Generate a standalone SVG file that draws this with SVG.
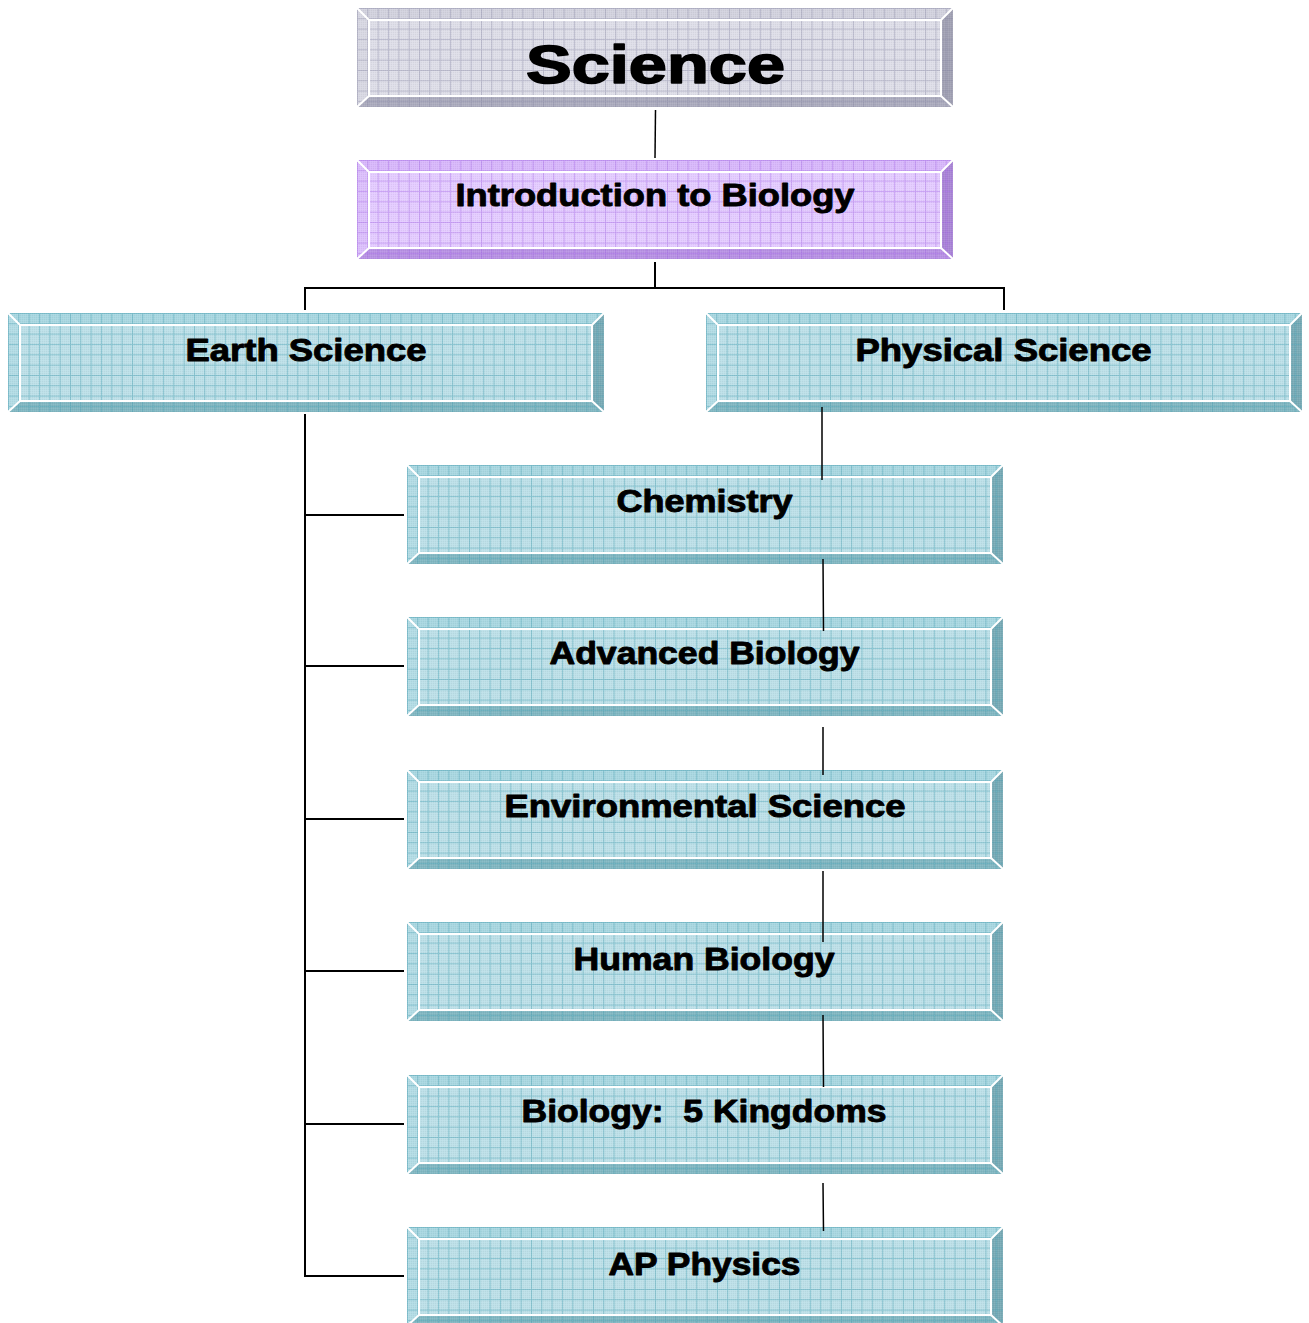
<svg xmlns="http://www.w3.org/2000/svg" width="1309" height="1323" viewBox="0 0 1309 1323">
<defs>
<pattern id="grid-teal" patternUnits="userSpaceOnUse" width="10.33" height="10.33">
<path d="M0.5,0 V10.33 M0,0.5 H10.33" stroke="#4ea3b5" stroke-opacity="0.5" stroke-width="1" fill="none"/>
</pattern>
<pattern id="grid-grey" patternUnits="userSpaceOnUse" width="10.33" height="10.33">
<path d="M0.5,0 V10.33 M0,0.5 H10.33" stroke="#8c8ca8" stroke-opacity="0.45" stroke-width="1" fill="none"/>
</pattern>
<pattern id="grid-purple" patternUnits="userSpaceOnUse" width="10.33" height="10.33">
<path d="M0.5,0 V10.33 M0,0.5 H10.33" stroke="#a468e8" stroke-opacity="0.45" stroke-width="1" fill="none"/>
</pattern>
<pattern id="dither" patternUnits="userSpaceOnUse" width="2" height="2">
<rect x="0" y="0" width="1" height="1" fill="#000" fill-opacity="0.04"/>
<rect x="1" y="1" width="1" height="1" fill="#fff" fill-opacity="0.08"/>
</pattern>
</defs>
<style>
.teal .top{fill:#a9d7e1}.teal .left{fill:#b3dce5}.teal .bottom{fill:#82b7c2}.teal .right{fill:#7aabb6}.teal .face{fill:#bde0e8}.teal .grid{fill:url(#grid-teal)}
.grey .top{fill:#d2d2de}.grey .left{fill:#d8d8e3}.grey .bottom{fill:#acacbe}.grey .right{fill:#a2a2b4}.grey .face{fill:#dedee8}.grey .grid{fill:url(#grid-grey)}
.purple .top{fill:#d8b8fb}.purple .left{fill:#dcc0fc}.purple .bottom{fill:#b892e4}.purple .right{fill:#aa86d6}.purple .face{fill:#e4ccff}.purple .grid{fill:url(#grid-purple)}
.dith{fill:url(#dither)}
.hl{fill:none;stroke:#ffffff;stroke-width:2}
.lbl{font-family:"Liberation Sans",Arial,Helvetica,sans-serif;font-weight:bold;fill:#000;stroke:#000;stroke-width:0.9;stroke-linejoin:round;text-anchor:middle;font-size:31px}
.big{font-size:54px;stroke-width:1.6}
.conn{stroke:#000;stroke-width:2;fill:none}
.conn2{stroke:#000;stroke-width:1.5;fill:none}
</style>

<g id="node-science" class="grey" transform="translate(357,8)">
<path class="top" d="M0,0 H596 L584,12 H12 Z"/><path class="left" d="M0,0 L12,12 V88 L0,99 Z"/><path class="bottom" d="M0,99 L12,88 H584 L596,99 Z"/><path class="right" d="M596,0 V99 L584,88 V12 Z"/><rect class="face" x="12" y="12" width="572" height="76"/><rect class="grid" x="0" y="0" width="596" height="99"/><rect class="dith" x="0" y="0" width="596" height="99"/>
<rect class="hl" x="12" y="12" width="572" height="76"/><path class="hl" d="M0,0 L12,12 M0,99 L12,88 M596,0 L584,12 M596,99 L584,88"/>
<text class="lbl big" x="298.5" y="75" textLength="259" lengthAdjust="spacingAndGlyphs">Science</text>
</g>

<g id="node-intro" class="purple" transform="translate(357,160)">
<path class="top" d="M0,0 H596 L584,12 H12 Z"/><path class="left" d="M0,0 L12,12 V88 L0,99 Z"/><path class="bottom" d="M0,99 L12,88 H584 L596,99 Z"/><path class="right" d="M596,0 V99 L584,88 V12 Z"/><rect class="face" x="12" y="12" width="572" height="76"/><rect class="grid" x="0" y="0" width="596" height="99"/><rect class="dith" x="0" y="0" width="596" height="99"/>
<rect class="hl" x="12" y="12" width="572" height="76"/><path class="hl" d="M0,0 L12,12 M0,99 L12,88 M596,0 L584,12 M596,99 L584,88"/>
<text class="lbl" x="298" y="46" textLength="399" lengthAdjust="spacingAndGlyphs">Introduction to Biology</text>
</g>

<g id="node-earth" class="teal" transform="translate(8,313)">
<path class="top" d="M0,0 H596 L584,12 H12 Z"/><path class="left" d="M0,0 L12,12 V88 L0,99 Z"/><path class="bottom" d="M0,99 L12,88 H584 L596,99 Z"/><path class="right" d="M596,0 V99 L584,88 V12 Z"/><rect class="face" x="12" y="12" width="572" height="76"/><rect class="grid" x="0" y="0" width="596" height="99"/><rect class="dith" x="0" y="0" width="596" height="99"/>
<rect class="hl" x="12" y="12" width="572" height="76"/><path class="hl" d="M0,0 L12,12 M0,99 L12,88 M596,0 L584,12 M596,99 L584,88"/>
<text class="lbl" x="298" y="47.5" textLength="241" lengthAdjust="spacingAndGlyphs">Earth Science</text>
</g>

<g id="node-physical" class="teal" transform="translate(706,313)">
<path class="top" d="M0,0 H596 L584,12 H12 Z"/><path class="left" d="M0,0 L12,12 V88 L0,99 Z"/><path class="bottom" d="M0,99 L12,88 H584 L596,99 Z"/><path class="right" d="M596,0 V99 L584,88 V12 Z"/><rect class="face" x="12" y="12" width="572" height="76"/><rect class="grid" x="0" y="0" width="596" height="99"/><rect class="dith" x="0" y="0" width="596" height="99"/>
<rect class="hl" x="12" y="12" width="572" height="76"/><path class="hl" d="M0,0 L12,12 M0,99 L12,88 M596,0 L584,12 M596,99 L584,88"/>
<text class="lbl" x="297.5" y="47.5" textLength="296" lengthAdjust="spacingAndGlyphs">Physical Science</text>
</g>

<g id="node-chemistry" class="teal" transform="translate(407,465)">
<path class="top" d="M0,0 H596 L584,12 H12 Z"/><path class="left" d="M0,0 L12,12 V88 L0,99 Z"/><path class="bottom" d="M0,99 L12,88 H584 L596,99 Z"/><path class="right" d="M596,0 V99 L584,88 V12 Z"/><rect class="face" x="12" y="12" width="572" height="76"/><rect class="grid" x="0" y="0" width="596" height="99"/><rect class="dith" x="0" y="0" width="596" height="99"/>
<rect class="hl" x="12" y="12" width="572" height="76"/><path class="hl" d="M0,0 L12,12 M0,99 L12,88 M596,0 L584,12 M596,99 L584,88"/>
<text class="lbl" x="297.5" y="47" textLength="176" lengthAdjust="spacingAndGlyphs">Chemistry</text>
</g>

<g id="node-advbio" class="teal" transform="translate(407,617)">
<path class="top" d="M0,0 H596 L584,12 H12 Z"/><path class="left" d="M0,0 L12,12 V88 L0,99 Z"/><path class="bottom" d="M0,99 L12,88 H584 L596,99 Z"/><path class="right" d="M596,0 V99 L584,88 V12 Z"/><rect class="face" x="12" y="12" width="572" height="76"/><rect class="grid" x="0" y="0" width="596" height="99"/><rect class="dith" x="0" y="0" width="596" height="99"/>
<rect class="hl" x="12" y="12" width="572" height="76"/><path class="hl" d="M0,0 L12,12 M0,99 L12,88 M596,0 L584,12 M596,99 L584,88"/>
<text class="lbl" x="297.5" y="47" textLength="310" lengthAdjust="spacingAndGlyphs">Advanced Biology</text>
</g>

<g id="node-envsci" class="teal" transform="translate(407,770)">
<path class="top" d="M0,0 H596 L584,12 H12 Z"/><path class="left" d="M0,0 L12,12 V88 L0,99 Z"/><path class="bottom" d="M0,99 L12,88 H584 L596,99 Z"/><path class="right" d="M596,0 V99 L584,88 V12 Z"/><rect class="face" x="12" y="12" width="572" height="76"/><rect class="grid" x="0" y="0" width="596" height="99"/><rect class="dith" x="0" y="0" width="596" height="99"/>
<rect class="hl" x="12" y="12" width="572" height="76"/><path class="hl" d="M0,0 L12,12 M0,99 L12,88 M596,0 L584,12 M596,99 L584,88"/>
<text class="lbl" x="298" y="46.5" textLength="401" lengthAdjust="spacingAndGlyphs">Environmental Science</text>
</g>

<g id="node-humanbio" class="teal" transform="translate(407,922)">
<path class="top" d="M0,0 H596 L584,12 H12 Z"/><path class="left" d="M0,0 L12,12 V88 L0,99 Z"/><path class="bottom" d="M0,99 L12,88 H584 L596,99 Z"/><path class="right" d="M596,0 V99 L584,88 V12 Z"/><rect class="face" x="12" y="12" width="572" height="76"/><rect class="grid" x="0" y="0" width="596" height="99"/><rect class="dith" x="0" y="0" width="596" height="99"/>
<rect class="hl" x="12" y="12" width="572" height="76"/><path class="hl" d="M0,0 L12,12 M0,99 L12,88 M596,0 L584,12 M596,99 L584,88"/>
<text class="lbl" x="297" y="47.5" textLength="261" lengthAdjust="spacingAndGlyphs">Human Biology</text>
</g>

<g id="node-kingdoms" class="teal" transform="translate(407,1075)">
<path class="top" d="M0,0 H596 L584,12 H12 Z"/><path class="left" d="M0,0 L12,12 V88 L0,99 Z"/><path class="bottom" d="M0,99 L12,88 H584 L596,99 Z"/><path class="right" d="M596,0 V99 L584,88 V12 Z"/><rect class="face" x="12" y="12" width="572" height="76"/><rect class="grid" x="0" y="0" width="596" height="99"/><rect class="dith" x="0" y="0" width="596" height="99"/>
<rect class="hl" x="12" y="12" width="572" height="76"/><path class="hl" d="M0,0 L12,12 M0,99 L12,88 M596,0 L584,12 M596,99 L584,88"/>
<text class="lbl" x="297" y="46.5" textLength="365" lengthAdjust="spacingAndGlyphs" xml:space="preserve">Biology:  5 Kingdoms</text>
</g>

<g id="node-apphysics" class="teal" transform="translate(407,1227)">
<path class="top" d="M0,0 H596 L584,12 H12 Z"/><path class="left" d="M0,0 L12,12 V88 L0,99 Z"/><path class="bottom" d="M0,99 L12,88 H584 L596,99 Z"/><path class="right" d="M596,0 V99 L584,88 V12 Z"/><rect class="face" x="12" y="12" width="572" height="76"/><rect class="grid" x="0" y="0" width="596" height="99"/><rect class="dith" x="0" y="0" width="596" height="99"/>
<rect class="hl" x="12" y="12" width="572" height="76"/><path class="hl" d="M0,0 L12,12 M0,99 L12,88 M596,0 L584,12 M596,99 L584,88"/>
<text class="lbl" x="297.5" y="47.5" textLength="192" lengthAdjust="spacingAndGlyphs">AP Physics</text>
</g>

<g id="connectors">
<path class="conn2" d="M655.5,110 L655,158"/>
<path class="conn" d="M655,262 V288 M305,310 V288 H1004 V310"/>
<path class="conn" d="M305,414 V1277"/>
<path class="conn" d="M305,515 H404 M305,666 H404 M305,819 H404 M305,971 H404 M305,1124 H404 M305,1276 H404"/>
<path class="conn2" d="M822,407 V480 M823,559 L823.5,631 M823,727 V775 M823,871 V942 M823,1015 L823.5,1087 M823,1183 L823.5,1231"/>
</g>
</svg>
